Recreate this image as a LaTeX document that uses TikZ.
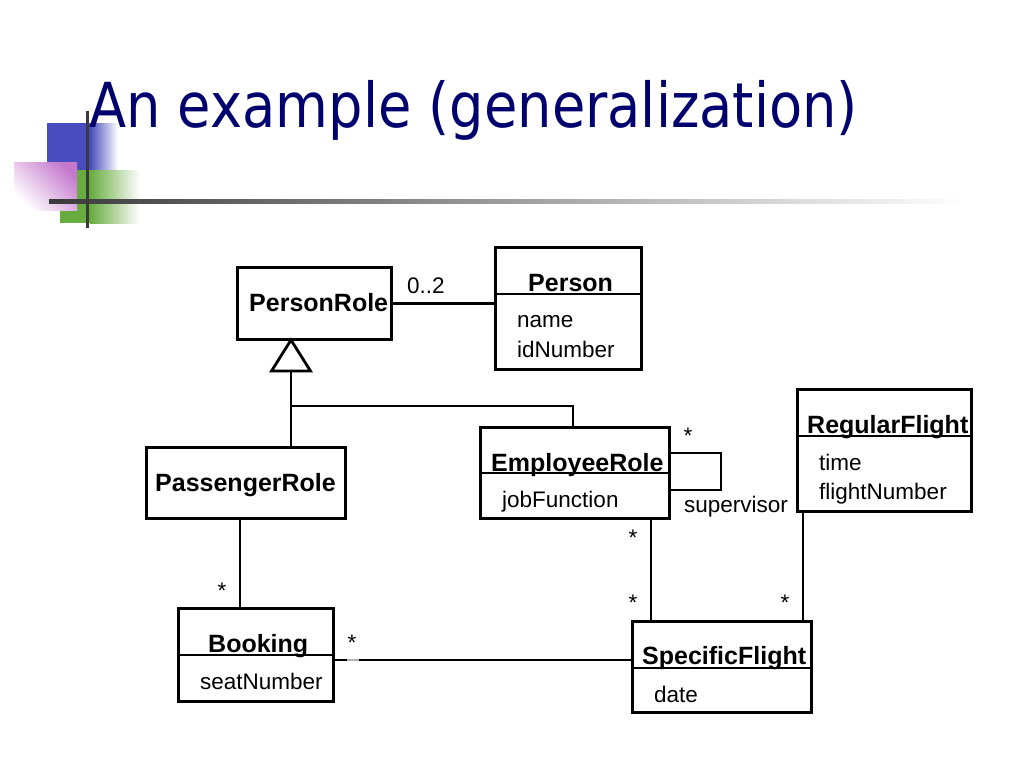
\documentclass[tikz,border=0pt]{standalone}
\usepackage{fontspec}
\setmainfont{Liberation Sans}
\newfontfamily\titlefont{DejaVu Sans}
\usetikzlibrary{calc}
\definecolor{titleblue}{RGB}{0,0,110}
\definecolor{decoblue}{RGB}{72,76,190}
\definecolor{decogreen}{RGB}{104,172,64}
\definecolor{decopink}{RGB}{196,120,204}
\definecolor{decodark}{RGB}{58,58,58}
\tikzset{
  box/.style={draw, line width=2.8pt, inner sep=0pt, fill=white},
  conn/.style={line width=2.8pt},
  cname/.style={font=\fontsize{25}{28}\selectfont\bfseries, inner sep=0pt, anchor=base west},
  attr/.style={font=\fontsize{22.5}{26}\selectfont, inner sep=0pt, anchor=base west},
  mult/.style={font=\fontsize{22.5}{26}\selectfont, inner sep=0pt, anchor=base},
}
\begin{document}
\begin{tikzpicture}[x=1pt,y=-1pt]
\useasboundingbox (0,0) rectangle (1024,768);
\fill[white] (0,0) rectangle (1024,768);
% decorations
\fill[decoblue] (47,123) rectangle (90,170);
\shade[left color=decoblue, right color=white] (90,123) rectangle (118,170);
\fill[decogreen] (60,170) rectangle (90,223);
\shade[left color=decogreen, right color=white] (90,170) rectangle (140,223);
\shade[left color=white, right color=decopink, shading angle=135] (14,162) rectangle (77,210);
\shade[left color=decodark, middle color=decodark!70, right color=white] (49,199) rectangle (965,203);
\fill[decodark] (85.5,111) rectangle (89,228);
% title
\node[inner sep=0pt, anchor=base west, text=titleblue, font=\titlefont\fontsize{62}{70}\selectfont] (title) at (89,127) {\scalebox{0.875}[1]{An example (generalization)}};
% boxes
\node[box, minimum width=154pt, minimum height=72pt] (pr) at (314.5,303.5) {};
\node[box, minimum width=146pt, minimum height=122pt] (person) at (568.5,308.5) {};
\node[box, minimum width=199pt, minimum height=71pt] (passenger) at (246,483) {};
\node[box, minimum width=189pt, minimum height=91pt] (employee) at (575,473) {};
\node[box, minimum width=174pt, minimum height=122pt] (regular) at (884.5,450.5) {};
\node[box, minimum width=155pt, minimum height=93pt] (booking) at (256,655) {};
\node[box, minimum width=179pt, minimum height=91pt] (specific) at (722,667) {};
% separators
\draw[conn] (person.west |- 0,294) -- (person.east |- 0,294);
\draw[conn] (employee.west |- 0,473) -- (employee.east |- 0,473);
\draw[conn] (regular.west |- 0,436) -- (regular.east |- 0,436);
\draw[conn] (booking.west |- 0,655) -- (booking.east |- 0,655);
\draw[conn] (specific.west |- 0,668) -- (specific.east |- 0,668);
% texts
\node[cname] (tpr) at (249,311) {PersonRole};
\node[cname] (tperson) at (528,291) {Person};
\node[attr] (tname) at (517,327) {name};
\node[attr] (tid) at (517,357) {idNumber};
\node[cname] (tpass) at (155,491) {PassengerRole};
\node[cname] (temp) at (491,471) {EmployeeRole};
\node[attr] (tjob) at (502,507) {jobFunction};
\node[cname] (treg) at (807,433) {RegularFlight};
\node[attr] (ttime) at (819,470) {time};
\node[attr] (tfn) at (819,499) {flightNumber};
\node[cname] (tbook) at (208,652) {Booking};
\node[attr] (tseat) at (200,689) {seatNumber};
\node[cname] (tspec) at (642,664) {SpecificFlight};
\node[attr] (tdate) at (654,702) {date};
% connectors
\draw[conn] (pr.east) -- (pr.east -| person.west);
\node[attr] (m02) at (407,293) {0..2};
\coordinate (tri) at (291,340);
\coordinate (trib) at (291,371);
\coordinate (junc) at (291,406);
\draw[conn, line join=miter] (tri) -- ($(trib)+(-19.5,0)$) -- ($(trib)+(19.5,0)$) -- cycle;
\draw[conn] (trib) -- (junc) -- (junc -| 573,0) -- (employee.north -| 573,0);
\draw[conn] (junc) -- (junc |- passenger.north);
\draw[conn] (employee.east |- 0,453) -- (721,453) -- (721,490) -- (employee.east |- 0,490);
\node[mult] (ms1) at (688,443) {*};
\node[attr] (tsup) at (684,512) {supervisor};
\draw[conn] (passenger.south -| 240,0) -- (booking.north -| 240,0);
\node[mult] (ms2) at (222,598) {*};
\draw[conn] (employee.south -| 651,0) -- (specific.north -| 651,0);
\node[mult] (ms3) at (633,545) {*};
\node[mult] (ms4) at (633,610) {*};
\draw[conn] (regular.south -| 803,0) -- (specific.north -| 803,0);
\node[mult] (ms5) at (785,610) {*};
\draw[conn] (booking.east |- 0,660) -- (specific.west |- 0,660);
\draw[line width=2.8pt, gray!60] (347,660) -- (359,660);
\node[mult] (ms6) at (352,650) {*};
\end{tikzpicture}
\end{document}
